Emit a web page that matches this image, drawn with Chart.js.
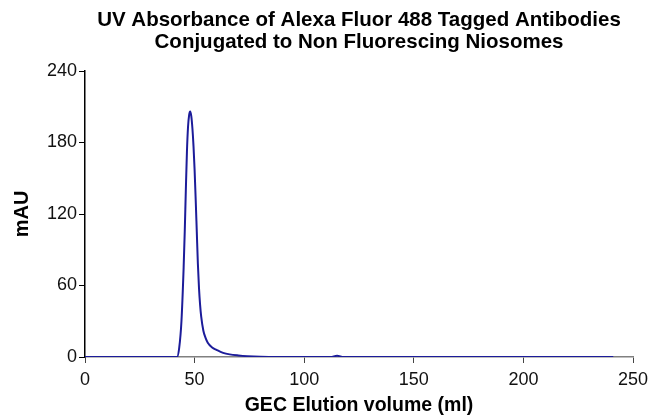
<!DOCTYPE html>
<html>
<head>
<meta charset="utf-8">
<script src="https://cdn.jsdelivr.net/npm/chart.js@4.4.1/dist/chart.umd.min.js"></script>
<style>
  html, body { margin: 0; padding: 0; background: #fff; }
  #wrap { width: 659px; height: 418px; }
</style>
</head>
<body>
<div id="wrap"><canvas id="myChart" width="659" height="418"></canvas></div>
<script>
// elution volume (ml) and absorbance (mAU)
const volumes = [0, 42, 43, 44, 45, 45.5, 46, 46.5, 47, 47.5, 48, 48.5, 49, 49.5, 50, 50.5, 51, 51.5, 52, 52.5, 53, 54, 55, 56, 58, 60, 63, 66, 70, 74, 80, 88, 112, 115, 118, 241];
const absorbance = [0, 0, 8, 30, 75, 105, 140, 172, 193, 203, 206, 202, 192, 177, 157, 132, 105, 78, 58, 44, 34, 22, 16, 12, 8, 6, 3.5, 2.2, 1.3, 0.7, 0.2, 0, 0, 1, 0, 0];
const xTicks = [0, 50, 100, 150, 200, 250];
const yTicks = [0, 60, 120, 180, 240];
const titleLines = ["UV Absorbance of Alexa Fluor 488 Tagged Antibodies", "Conjugated to Non Fluorescing Niosomes"];

(() => {
    const ctx = document.getElementById('myChart').getContext('2d');
    const FONT = "'Liberation Sans', Arial, sans-serif";

    const points = volumes.map((v, i) => ({ x: v, y: absorbance[i] }));

    // title centred over the plot area, like the original
    const plotTitle = {
        id: 'plotTitle',
        afterDraw(chart) {
            const c = chart.ctx;
            const mid = (chart.chartArea.left + chart.chartArea.right) / 2;
            c.save();
            c.fillStyle = '#000';
            c.font = 'bold 20.5px ' + FONT;
            c.textAlign = 'center';
            c.textBaseline = 'alphabetic';
            c.fillText(titleLines[0], mid, 26);
            c.fillText(titleLines[1], mid, 48);
            c.restore();
        }
    };

    new Chart(ctx, {
        type: 'line',
        data: {
            datasets: [{
                data: points,
                borderColor: '#1c1c9a',
                borderWidth: 2,
                pointRadius: 0,
                fill: false,
                cubicInterpolationMode: 'monotone'
            }]
        },
        options: {
            responsive: false,
            animation: false,
            layout: { padding: { left: 10, right: 26, top: 71, bottom: 0 } },
            plugins: {
                legend: { display: false },
                tooltip: { enabled: false }
            },
            scales: {
                x: {
                    type: 'linear',
                    min: 0,
                    max: 250,
                    afterBuildTicks: (s) => { s.ticks = xTicks.map(v => ({ value: v })); },
                    afterFit: (s) => { s.height = 61; },
                    grid: { drawOnChartArea: false, drawTicks: true, tickLength: 6, color: '#444' },
                    border: { color: '#808080', width: 1.5 },
                    ticks: { color: '#111', font: { family: FONT, size: 18 }, padding: 6, maxRotation: 0 },
                    title: {
                        display: true,
                        text: 'GEC Elution volume (ml)',
                        color: '#000',
                        font: { family: FONT, size: 19.5, weight: 'bold' },
                        padding: { top: 2, bottom: 1 }
                    }
                },
                y: {
                    min: 0,
                    max: 240,
                    afterBuildTicks: (s) => { s.ticks = yTicks.map(v => ({ value: v })); },
                    afterFit: (s) => { s.width = 75; },
                    grid: { drawOnChartArea: false, drawTicks: true, tickLength: 6, color: '#000' },
                    border: { color: '#000', width: 1.5 },
                    ticks: { color: '#111', font: { family: FONT, size: 18 }, padding: 2 },
                    title: {
                        display: true,
                        text: 'mAU',
                        color: '#000',
                        font: { family: FONT, size: 20, weight: 'bold' },
                        padding: { top: 0, bottom: 2 }
                    }
                }
            }
        },
        plugins: [plotTitle]
    });
})();
</script>
</body>
</html>
